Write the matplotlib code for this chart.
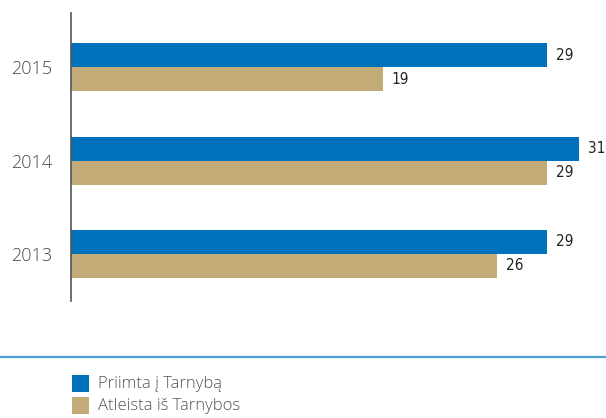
import matplotlib
matplotlib.use("Agg")
import matplotlib.pyplot as plt
from matplotlib.patches import Rectangle
from matplotlib.lines import Line2D

years = ["2013", "2014", "2015"]
hired = [29, 31, 29]
dismissed = [26, 29, 19]
series_labels = ["Priimta į Tarnybą", "Atleista iš Tarnybos"]

BLUE = "#0071bb"
TAN = "#c2ab76"
TEXT = "#4a4a4a"

W, H = 606, 418
fig = plt.figure(figsize=(W / 100, H / 100), dpi=100)

# axes placed in pixel terms: spine at x=71, vertical extent 13..301
ax = fig.add_axes([71 / W, (H - 301) / H, (W - 71) / W, (301 - 13) / H])
px_per_unit = 16.4
ax.set_xlim(0, (W - 71) / px_per_unit)

step = 93.5
ypos = [0, 1, 2]
ax.set_ylim(-47 / step, 2 + 54 / step)
bh = 24 / step

ax.barh([y + bh / 2 for y in ypos], hired, height=bh, color=BLUE, linewidth=0)
ax.barh([y - bh / 2 for y in ypos], dismissed, height=bh, color=TAN, linewidth=0)

off = 9 / px_per_unit
num_kw = dict(va="center", ha="left", fontsize=11, color="#222222",
              family="DejaVu Sans", fontstretch="condensed")
for y, v in zip(ypos, hired):
    ax.text(v + off, y + bh / 2, str(v), **num_kw)
for y, v in zip(ypos, dismissed):
    ax.text(v + off, y - bh / 2, str(v), **num_kw)

ax.set_yticks(ypos)
ax.set_yticklabels(years, family="Open Sans", fontsize=13, color=TEXT,
                   fontweight="light")
ax.tick_params(axis="y", length=0, pad=13.5)
ax.set_xticks([])
for s in ["top", "right", "bottom"]:
    ax.spines[s].set_visible(False)
ax.spines["left"].set_color("#555555")
ax.spines["left"].set_linewidth(1.2)

# separator line above the legend
fig.add_artist(Line2D([0, 1], [(H - 357) / H] * 2, color="#4f9fd3",
                      linewidth=1.6, transform=fig.transFigure))

# legend swatches and labels
for i, (lab, col) in enumerate(zip(series_labels, [BLUE, TAN])):
    top = 375 + i * 22
    fig.add_artist(Rectangle((72 / W, (H - top - 17) / H), 17 / W, 17 / H,
                             transform=fig.transFigure, color=col, linewidth=0))
    fig.text(98 / W, (H - top - 8.5) / H, lab, va="center", ha="left",
             family="Open Sans", fontsize=12, color="#555555",
             fontweight="light")

fig.savefig("out.png", dpi=100)
